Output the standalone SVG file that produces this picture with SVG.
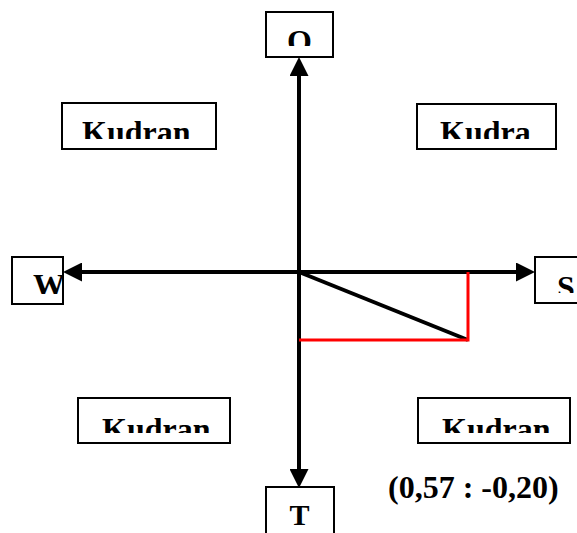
<svg xmlns="http://www.w3.org/2000/svg" width="577" height="533" viewBox="0 0 577 533">
<style>
.box{fill:#fff;stroke:#000;stroke-width:2}
.lbl{font-family:"Liberation Serif","Times New Roman",serif;font-weight:bold;font-size:32px;fill:#000}
.axis{stroke:#000;stroke-width:4;fill:none}
.red{stroke:#f00;stroke-width:3;fill:none}
</style>
<defs>
<marker id="ah" markerUnits="userSpaceOnUse" markerWidth="19" markerHeight="19" viewBox="0 0 19 19" refX="8" refY="9.5" orient="auto-start-reverse">
<path d="M0,0 L19,9.5 L0,19 z" fill="#000"/>
</marker>
<clipPath id="cO"><rect x="267" y="13" width="65" height="33"/></clipPath>
<clipPath id="cTL"><rect x="63" y="104" width="152" height="35"/></clipPath>
<clipPath id="cTR"><rect x="418" y="105" width="137" height="34"/></clipPath>
<clipPath id="cW"><rect x="13" y="258" width="49" height="36"/></clipPath>
<clipPath id="cS"><rect x="536" y="258" width="41" height="35"/></clipPath>
<clipPath id="cBL"><rect x="79" y="399" width="150" height="34"/></clipPath>
<clipPath id="cBR"><rect x="419" y="399" width="150" height="34"/></clipPath>
</defs>
<g id="connectors">
<line class="axis" x1="299" y1="477" x2="299" y2="68" marker-start="url(#ah)" marker-end="url(#ah)"/>
<line class="axis" x1="74" y1="272" x2="524" y2="272" marker-start="url(#ah)" marker-end="url(#ah)"/>
<line class="axis" x1="299" y1="272" x2="468" y2="340"/>
<polyline class="red" points="468,272 468,340 299,340"/>
</g>
<g id="node-O"><rect class="box" x="266" y="12" width="67" height="45"/><text class="lbl" x="299.5" y="52" text-anchor="middle" clip-path="url(#cO)">O</text></g>
<g id="node-kudran-tl"><rect class="box" x="62" y="103" width="154" height="46"/><text class="lbl" x="82" y="143" clip-path="url(#cTL)">Kudran</text></g>
<g id="node-kudra-tr"><rect class="box" x="417" y="104" width="139" height="45"/><text class="lbl" x="440" y="143" clip-path="url(#cTR)">Kudra</text></g>
<g id="node-W"><rect class="box" x="12" y="257" width="51" height="47"/><text class="lbl" x="33" y="296" clip-path="url(#cW)">W</text></g>
<g id="node-S"><rect class="box" x="535" y="257" width="44" height="46"/><text class="lbl" x="557" y="298" clip-path="url(#cS)">S</text></g>
<g id="node-kudran-bl"><rect class="box" x="78" y="398" width="152" height="45"/><text class="lbl" x="102" y="440" clip-path="url(#cBL)">Kudran</text></g>
<g id="node-kudran-br"><rect class="box" x="418" y="398" width="152" height="45"/><text class="lbl" x="442" y="440" clip-path="url(#cBR)">Kudran</text></g>
<g id="node-T"><rect class="box" x="266" y="487" width="68" height="50"/><text class="lbl" x="299.5" y="525" text-anchor="middle" style="font-size:30px">T</text></g>
<g id="coord"><text class="lbl" x="388" y="498">(0,57 : -0,20)</text></g>
</svg>
